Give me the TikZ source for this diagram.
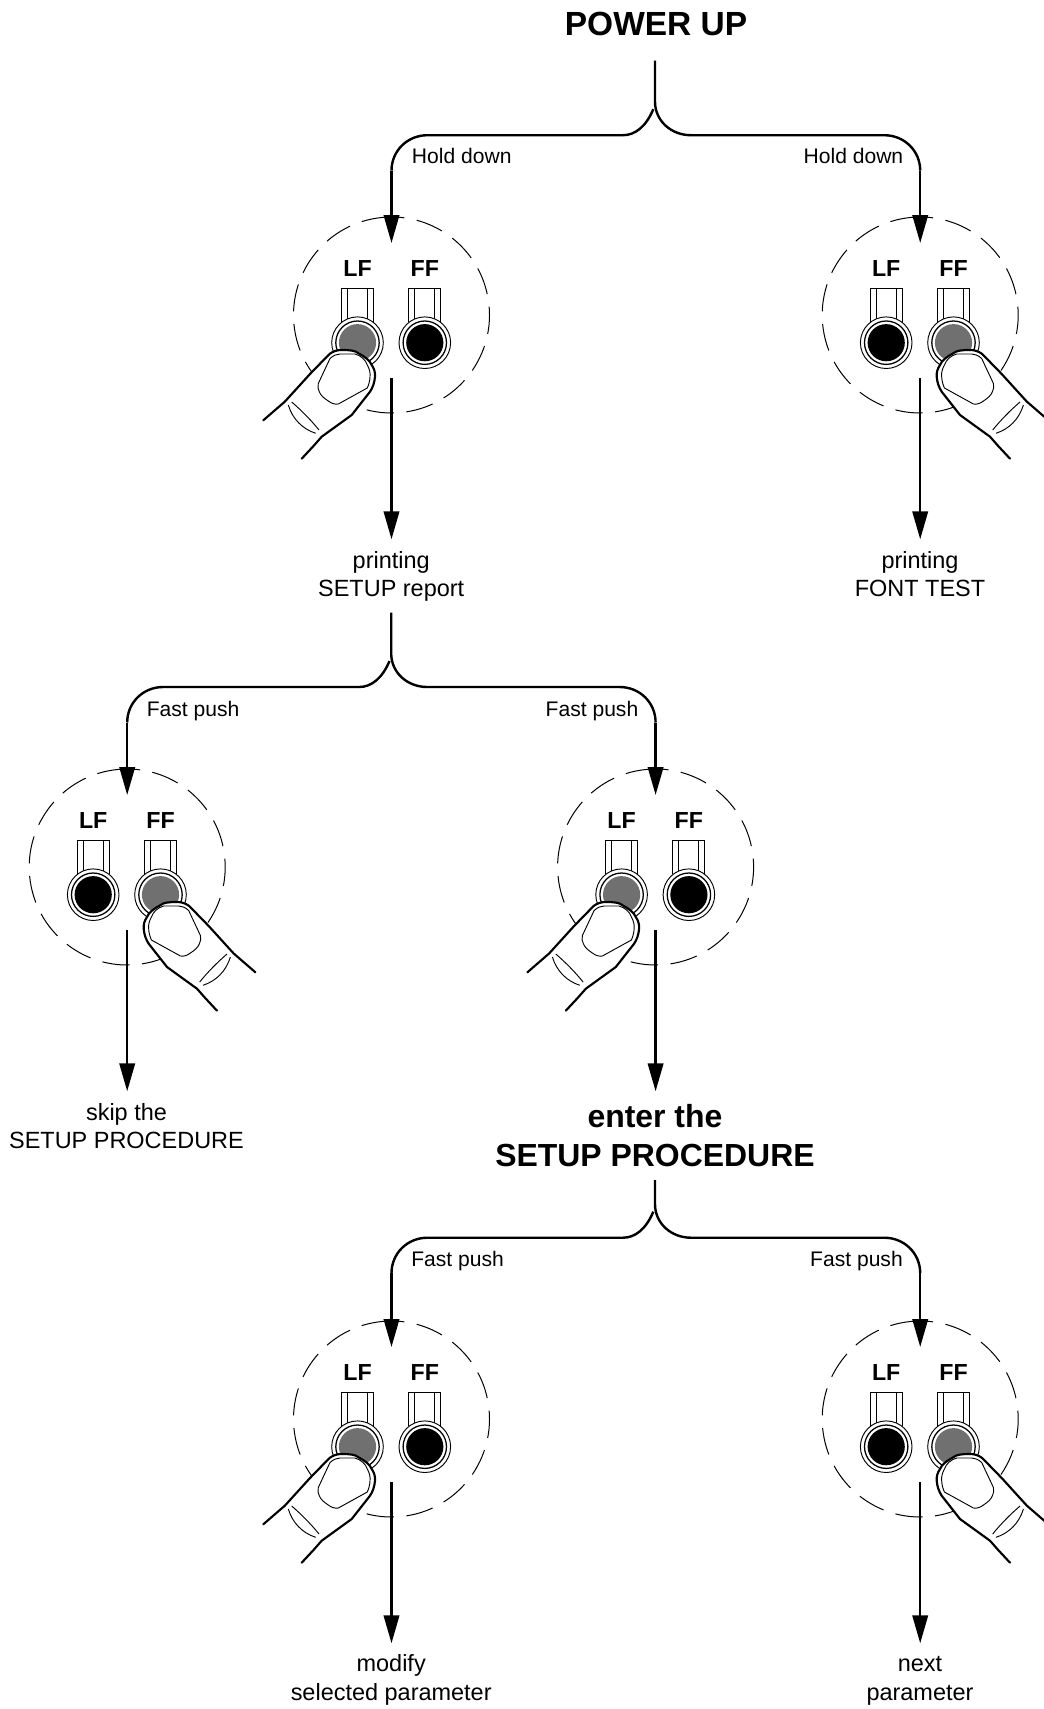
\documentclass[tikz,border=0pt]{standalone}
\usepackage{fontspec}
\setmainfont{Liberation Sans}
\usetikzlibrary{arrows.meta,calc}
\tikzset{
  wire/.style={line width=1.8pt,line cap=butt},
  arrowwire/.style={wire,-{Triangle[length=21pt,width=11.6pt]}},
  padspot/.style={circle,minimum size=147pt,inner sep=0pt,outer sep=0pt},
  padring/.style={line width=0.75pt,dash pattern=on 20.6pt off 9.4pt},
  thinline/.style={line width=0.7pt},
  fingerline/.style={line width=1.6pt,line cap=round,line join=round},
  keylabel/.style={font=\bfseries\fontsize{17.4}{20}\selectfont,inner sep=0pt,anchor=base},
  powertitle/.style={font=\bfseries\fontsize{25.1}{29.25}\selectfont,inner sep=0pt,align=center,anchor=base},
  bigtitle/.style={font=\bfseries\fontsize{23.95}{29.25}\selectfont,inner sep=0pt,align=center,anchor=base},
  result/.style={font=\fontsize{17.6}{21.2}\selectfont,inner sep=0pt,align=center,anchor=base},
  hint/.style={font=\fontsize{15.8}{19}\selectfont,inner sep=0pt},
}
% one key: x offset, fill colour
\newcommand\padkey[2]{%
  \begin{scope}[shift={(#1,27.7)}]
    \draw[thinline] (-16,-20.5) -- (-16,-54.7) -- (16,-54.7) -- (16,-20.5);
    \draw[thinline] (-10,-54.7) -- (-10,-19.5) (10,-54.7) -- (10,-19.5);
    \draw[thinline,fill=white] (0,0) circle[radius=25.8];
    \draw[line width=0.95pt,fill=white] (0,0) circle[radius=21.7];
    \fill[#2] (0,0) circle[radius=18.6];
  \end{scope}}
% finger, drawn for the left key and mirrored for the right key
\newcommand\fingershape[1]{%
  \begin{scope}[xscale=#1]
    \fill[white] (-128.2,105.3) -- (-106.5,86.5) -- (-81.5,59) -- (-62,39)
      .. controls (-58,36) and (-54,35) .. (-49.8,35)
      .. controls (-42,35) and (-36,35.5) .. (-33,38.3)
      .. controls (-27,41.5) and (-21.5,45.5) .. (-19.8,50)
      .. controls (-17,54) and (-16.2,58) .. (-16.5,61.7)
      .. controls (-17,68) and (-19,73) .. (-21.5,76.7)
      -- (-39.8,100) -- (-69.8,121.7) -- (-89.8,143.7) -- cycle;
    \draw[fingerline] (-128.2,105.3) -- (-106.5,86.5) -- (-81.5,59) -- (-62,39)
      .. controls (-58,36) and (-54,35) .. (-49.8,35)
      .. controls (-42,35) and (-36,35.5) .. (-33,38.3)
      .. controls (-27,41.5) and (-21.5,45.5) .. (-19.8,50)
      .. controls (-17,54) and (-16.2,58) .. (-16.5,61.7)
      .. controls (-17,68) and (-19,73) .. (-21.5,76.7)
      -- (-39.8,100) -- (-69.8,121.7) -- (-78,131) -- (-89.8,143.7);
    \draw[thinline] (-73.2,68.5) -- (-61.5,43.5)
      .. controls (-58,40.5) and (-55,39) .. (-51.5,39)
      -- (-36.5,39)
      .. controls (-31,40.5) and (-26,44.5) .. (-24.2,50)
      .. controls (-22,54) and (-21,58) .. (-21.5,61.7)
      .. controls (-21.5,65) and (-22.5,69) .. (-24.2,73)
      -- (-53.2,89)
      .. controls (-57,89.5) and (-60,88.5) .. (-63.2,86)
      .. controls (-68,83) and (-71,80) .. (-72.2,76.7)
      .. controls (-73.5,74) and (-74,72) .. (-73.2,68.5) -- cycle;
    \draw[thinline] (-99.8,87) .. controls (-90,95.5) and (-81,104.5) .. (-72.5,115);
    \draw[thinline] (-103.2,90) .. controls (-99,104) and (-89,114) .. (-75.8,118.3);
  \end{scope}}
% name, x, y, side (1: LF pressed, -1: FF pressed)
\newcommand\keypad[4]{%
  \begin{scope}[shift={(#2,#3)}]
    \node[padspot] (#1) at (0,0) {};
    \draw[padring] (-98.5:98) arc[start angle=-98.5,delta angle=360,radius=98];
    \node[keylabel] (#1lf) at (-34,-39) {LF};
    \node[keylabel] (#1ff) at (33.3,-39) {FF};
    \ifnum#4=1\relax
      \padkey{-34}{black!56}\padkey{33.3}{black}%
    \else
      \padkey{-34}{black}\padkey{33.3}{black!56}%
    \fi
    \fingershape{#4}
    \coordinate (#1in) at (0,-72);
    \coordinate (#1out) at (0,63);
    \coordinate (#1tip) at (0,224.3);
  \end{scope}}
% two-way fork: reference point (74.5 above the bar), left pad, right pad, start of the stem
\newcommand\fork[4]{%
  \coordinate (#1L) at (#2in|-#1);
  \coordinate (#1R) at (#3in|-#1);
  \draw[wire] (#4) -- ($(#1)+(0,41)$)
    .. controls ($(#1)+(0,60)$) and ($(#1)+(16,74.5)$) .. ($(#1)+(36,74.5)$)
    -- ($(#1R)+(-36,74.5)$)
    .. controls ($(#1R)+(-16,74.5)$) and ($(#1R)+(0,90)$) .. ($(#1R)+(0,110)$);
  \draw[arrowwire] ($(#1R)+(0,110)$) -- (#3in);
  \draw[wire] ($(#1)+(-1.7,48.5)$)
    .. controls ($(#1)+(-9,66)$) and ($(#1)+(-20,74.5)$) .. ($(#1)+(-32,74.5)$)
    -- ($(#1L)+(36,74.5)$)
    .. controls ($(#1L)+(16,74.5)$) and ($(#1L)+(0,90)$) .. ($(#1L)+(0,110)$);
  \draw[arrowwire] ($(#1L)+(0,110)$) -- (#2in);}
\begin{document}
\begin{tikzpicture}[x=0.75pt,y=-0.75pt]
  \useasboundingbox (0,0) rectangle (1044,1709);
  \clip (0,0) rectangle (1044,1709);
  \fill[white] (0,0) rectangle (1044,1709);

  \keypad{padA}{391.5}{315}{1}
  \keypad{padB}{920.2}{315}{-1}
  \keypad{padC}{127.2}{867}{-1}
  \keypad{padD}{655.6}{867}{1}
  \keypad{padE}{391.5}{1419}{1}
  \keypad{padF}{920.2}{1419}{-1}

  \node[powertitle] (power) at (656,36) {POWER UP};
  \node[result] (setupreport) at (391.2,596.7) {printing\\SETUP report};
  \node[result] (fonttest) at (920,596.7) {printing\\FONT TEST};
  \node[result] (skip) at (126.5,1148.7) {skip the\\SETUP PROCEDURE};
  \node[bigtitle] (enter) at (655,1166.7) {enter the\\SETUP PROCEDURE};
  \node[result] (modify) at (391.2,1700) {modify\\selected parameter};
  \node[result] (next) at (920,1700) {next\\parameter};

  \node[hint,anchor=base west] (holdL) at (411.7,163.6) {Hold down};
  \node[hint,anchor=base east] (holdR) at (903.5,163.6) {Hold down};
  \node[hint,anchor=base west] (fastC) at (146.5,716) {Fast push};
  \node[hint,anchor=base east] (fastD) at (638.5,716) {Fast push};
  \node[hint,anchor=base west] (fastE) at (411,1266.8) {Fast push};
  \node[hint,anchor=base east] (fastF) at (903,1266.8) {Fast push};

  \coordinate (stemA) at (655,60.7);
  \coordinate (stemB) at (391.2,612.5);
  \coordinate (stemC) at (655,1163.2);
  \coordinate (stemCstart) at (655,1180);
  \fork{stemA}{padA}{padB}{stemA}
  \fork{stemB}{padC}{padD}{stemB}
  \fork{stemC}{padE}{padF}{stemCstart}

  \foreach \p in {padA,padB,padC,padD,padE,padF}
    \draw[arrowwire] (\p out) -- (\p tip);
\end{tikzpicture}
\end{document}
